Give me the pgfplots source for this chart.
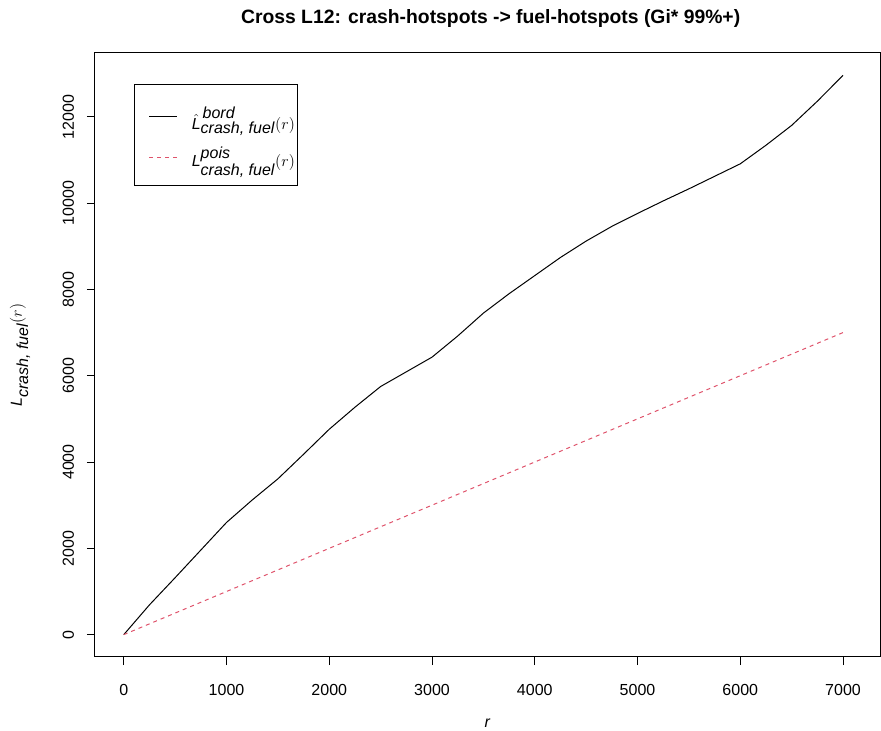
\documentclass[border=0pt]{standalone}
\usepackage{fontspec}
\setmainfont{Liberation Sans}
\usepackage{pgfplots}
\pgfplotsset{compat=1.18}
\definecolor{rred}{HTML}{DF536B}
\pgfplotstableread{
r L
0 0
250 690
500 1320
750 1960
1000 2600
1250 3120
1500 3610
1750 4180
2000 4760
2250 5270
2500 5750
2750 6090
3000 6430
3250 6920
3500 7450
3750 7900
4000 8320
4250 8740
4500 9120
4750 9460
5000 9760
5250 10050
5500 10330
5750 10620
6000 10910
6250 11340
6500 11800
6750 12360
7000 12960
}\bord
\pgfplotstableread{
r L
0 0
7000 7000
}\pois
\begin{document}
\begin{tikzpicture}
\path[use as bounding box] (-71.25pt,-55.5pt) rectangle (589.5pt,492.75pt);
\begin{axis}[
  at={(0pt,0pt)}, anchor=south west,
  scale only axis, width=588.75pt, height=453pt,
  xmin=-280, xmax=7360, ymin=-518, ymax=13478,
  axis line style={line width=0.75pt},
  tick align=outside, tick pos=left, major tick length=6pt,
  every tick/.style={line width=0.75pt, black},
  xtick={0,1000,...,7000}, ytick={0,2000,...,12000},
  scaled ticks=false,
  /pgf/number format/assume math mode=true,
  /pgf/number format/1000 sep={},
  /pgf/number format/fixed,
  tick label style={font=\fontsize{12}{14}\selectfont},
  xticklabel style={anchor=base},
  xticklabel shift=22.9pt,
  yticklabel style={rotate=90, anchor=base},
  yticklabel shift=9.75pt,
  title={Cross L12: crash-hotspots -> fuel-hotspots (Gi* 99\%+)},
  title style={at={(axis description cs:0.504,1.035)}, anchor=base, font=\bfseries\fontsize{14.5}{17}\selectfont},
  xlabel={\textit{r}},
  xlabel style={at={(axis description cs:0.5,-0.117)}, anchor=base, inner sep=0pt, font=\fontsize{12}{14}\selectfont},
  ylabel={$\textit{L}_{\textit{crash, fuel}}(r)$},
  ylabel style={at={(axis description cs:-0.0955,0.5)}, anchor=center, font=\fontsize{12}{14}\selectfont},
  legend style={at={(axis description cs:0.0497,0.9487)}, anchor=north west, draw=black, line width=0.75pt,
    inner xsep=0pt, inner ysep=10.5pt, row sep=7.5pt, font=\fontsize{12}{14}\selectfont, cells={anchor=west}},
  legend image code/.code={\path[draw=none] (-11pt,0pt) -- (30pt,0pt); \draw[#1] (0pt,0pt) -- (21pt,0pt);},
]
\addplot[black, line width=0.75pt] table[x=r, y=L] {\bord};
\addlegendentry{\rule{0pt}{21pt}$\hat{\textit{L}}^{\,\textit{bord}}_{\textit{crash, fuel}}(r)$}
\addplot[rred, line width=0.75pt, dash pattern=on 3pt off 3pt] table[x=r, y=L] {\pois};
\addlegendentry{$\textit{L}^{\textit{pois}}_{\textit{crash, fuel}}(r)$}
\end{axis}
\end{tikzpicture}
\end{document}
